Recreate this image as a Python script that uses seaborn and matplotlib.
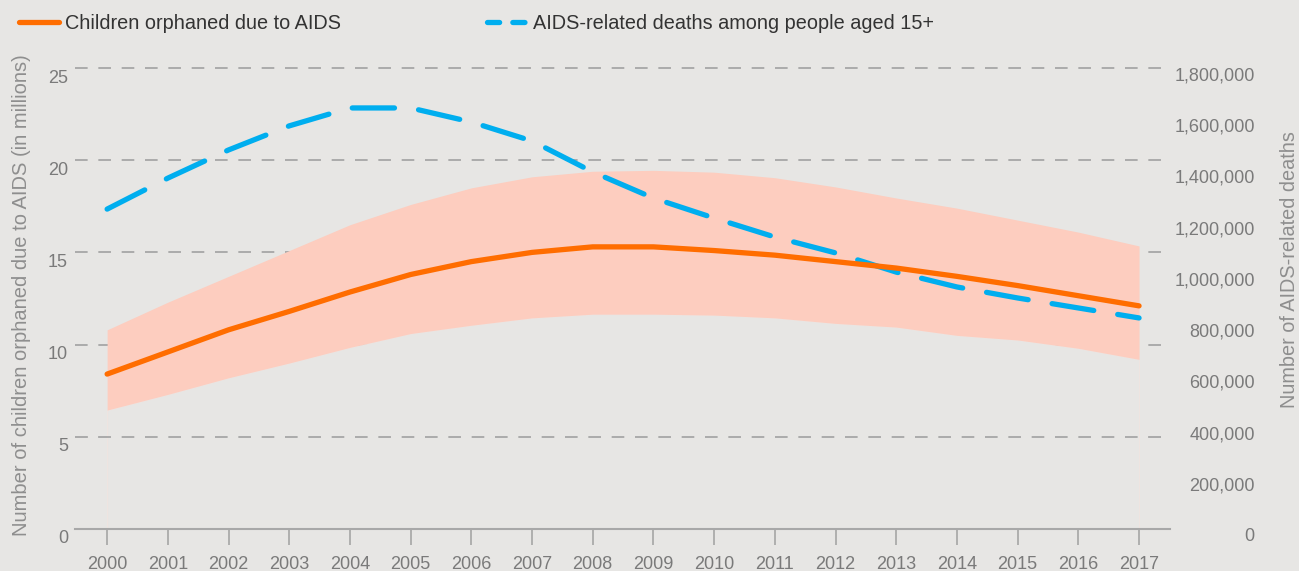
import matplotlib
matplotlib.use("Agg")
import matplotlib.pyplot as plt
import matplotlib.transforms as mtransforms
from matplotlib.lines import Line2D
from matplotlib.ticker import FuncFormatter
import seaborn as sns

# ---------------- data ----------------
years = list(range(2000, 2018))
orphans = [8.4, 9.6, 10.8, 11.8, 12.85, 13.8, 14.5, 15.0, 15.3, 15.3,
           15.1, 14.85, 14.5, 14.15, 13.7, 13.2, 12.65, 12.1]
orphans_upper = [10.8, 12.3, 13.7, 15.1, 16.5, 17.6, 18.5, 19.1, 19.4, 19.45,
                 19.35, 19.05, 18.55, 17.95, 17.4, 16.75, 16.1, 15.35]
orphans_lower = [6.45, 7.3, 8.2, 9.0, 9.85, 10.6, 11.05, 11.45, 11.65, 11.65,
                 11.6, 11.45, 11.15, 10.95, 10.5, 10.25, 9.8, 9.2]
deaths = [1249000, 1370000, 1480000, 1574000, 1644000, 1644000, 1589000,
          1515000, 1394000, 1292000, 1214000, 1140000, 1078000, 1003000,
          945000, 902000, 863000, 824000]
left_ticks = [0, 5, 10, 15, 20, 25]
right_ticks = [0, 200000, 400000, 600000, 800000, 1000000, 1200000,
               1400000, 1600000, 1800000]
series_labels = ["Children orphaned due to AIDS",
                 "AIDS-related deaths among people aged 15+"]
left_label = "Number of children orphaned due to AIDS (in millions)"
right_label = "Number of AIDS-related deaths"

# ---------------- style ----------------
BG = "#e7e6e4"
ORANGE = "#ff6d00"
BLUE = "#00aeef"
BAND = "#fdcdbf"
GRID = "#ababab"
TICKTXT = "#7a7a7a"
LABELTXT = "#8e8e8e"
GRID_DASH = (0, (6.5, 5.5))

sns.set_theme(style="white")
plt.rcParams["font.family"] = ["Liberation Sans", "DejaVu Sans"]

fig = plt.figure(figsize=(12.99, 5.71), dpi=100)
fig.patch.set_facecolor(BG)
ax = fig.add_axes([0.0577, 0.0736, 0.843, 0.8073])
ax.set_facecolor(BG)

# band + grid on base axis
ax.set_axisbelow(True)
ax.yaxis.grid(True, color=GRID, linestyle=GRID_DASH, linewidth=1.4)
for gl in ax.get_ygridlines():
    gl.set_clip_on(False)
# background-coloured area under the band (hides grid inside it, as in the original)
ax.fill_between(years, 0, orphans_lower, color=BG, linewidth=0.6,
                edgecolor="#f0e4e0", zorder=0.8)
ax.axhline(left_ticks[1], color=GRID, linestyle=GRID_DASH, linewidth=1.4, zorder=0.9)
ax.fill_between(years, orphans_lower, orphans_upper, color=BAND, linewidth=0, zorder=1)
ax.set_xlim(1999.47, 2017.51)
ax.set_ylim(0, 25)
ax.set_yticks(left_ticks)
ax.xaxis.grid(False)
ax.set_xticks(years)
ax.set_xticklabels([str(y) for y in years])
for s in ["top", "left", "right"]:
    ax.spines[s].set_visible(False)
ax.spines["bottom"].set_color("#a8a8a8")
ax.spines["bottom"].set_linewidth(1.5)
ax.spines["bottom"].set_zorder(3)
ax.tick_params(axis="x", length=11.5, width=1.1, color="#a0a0a0", pad=8,
               labelsize=13, labelcolor=TICKTXT, bottom=True)
ax.tick_params(axis="y", length=0, pad=5, labelsize=13, labelcolor=TICKTXT)
ax.set_ylabel(left_label, fontsize=14.5, color=LABELTXT)
ax.yaxis.set_label_coords(-0.040, 0.508)
ax.set_xlabel("")
off = mtransforms.ScaledTranslation(0, -8 / 100, fig.dpi_scale_trans)
for lab in ax.get_yticklabels():
    lab.set_transform(lab.get_transform() + off)

# deaths on right axis
ax2 = ax.twinx()
sns.lineplot(x=years, y=deaths, ax=ax2, color=BLUE, linewidth=3.8,
             linestyle=(0, (8, 4.6)), dash_capstyle="round")
ax2.set_ylim(0, 1800000)
ax2.set_yticks(right_ticks)
ax2.yaxis.set_major_formatter(FuncFormatter(lambda v, p: f"{int(v):,}"))
ax2.tick_params(axis="y", length=0, pad=61, labelsize=13, labelcolor=TICKTXT)
for lab in ax2.get_yticklabels():
    lab.set_ha("right")
    lab.set_transform(lab.get_transform() + mtransforms.ScaledTranslation(0, -6 / 100, fig.dpi_scale_trans))
ax2.set_ylabel(right_label, fontsize=14.3, color=LABELTXT)
ax2.yaxis.set_label_coords(1.1005, 0.562)
ax2.grid(False)
for s in ax2.spines.values():
    s.set_visible(False)

# orphans line on top
ax3 = ax.twinx()
sns.lineplot(x=years, y=orphans, ax=ax3, color=ORANGE, linewidth=3.8,
             solid_capstyle="round")
ax3.set_ylim(ax.get_ylim())
ax3.set_yticks([])
ax3.set_ylabel("")
ax3.grid(False)
for s in ax3.spines.values():
    s.set_visible(False)

# legend
handles = [Line2D([], [], color=ORANGE, linewidth=3.8, solid_capstyle="round"),
           Line2D([], [], color=BLUE, linewidth=3.8, linestyle=(0, (2.3, 2.5)),
                  dash_capstyle="round")]
leg = fig.legend(handles, series_labels, loc="upper left",
                 bbox_to_anchor=(0.0145, 0.976), ncol=2, frameon=False,
                 handlelength=2.0, handletextpad=0.3, columnspacing=7.4,
                 fontsize=14.3, borderpad=0, borderaxespad=0)
for t in leg.get_texts():
    t.set_color("#333333")

fig.savefig("out.png", dpi=100, facecolor=BG)
